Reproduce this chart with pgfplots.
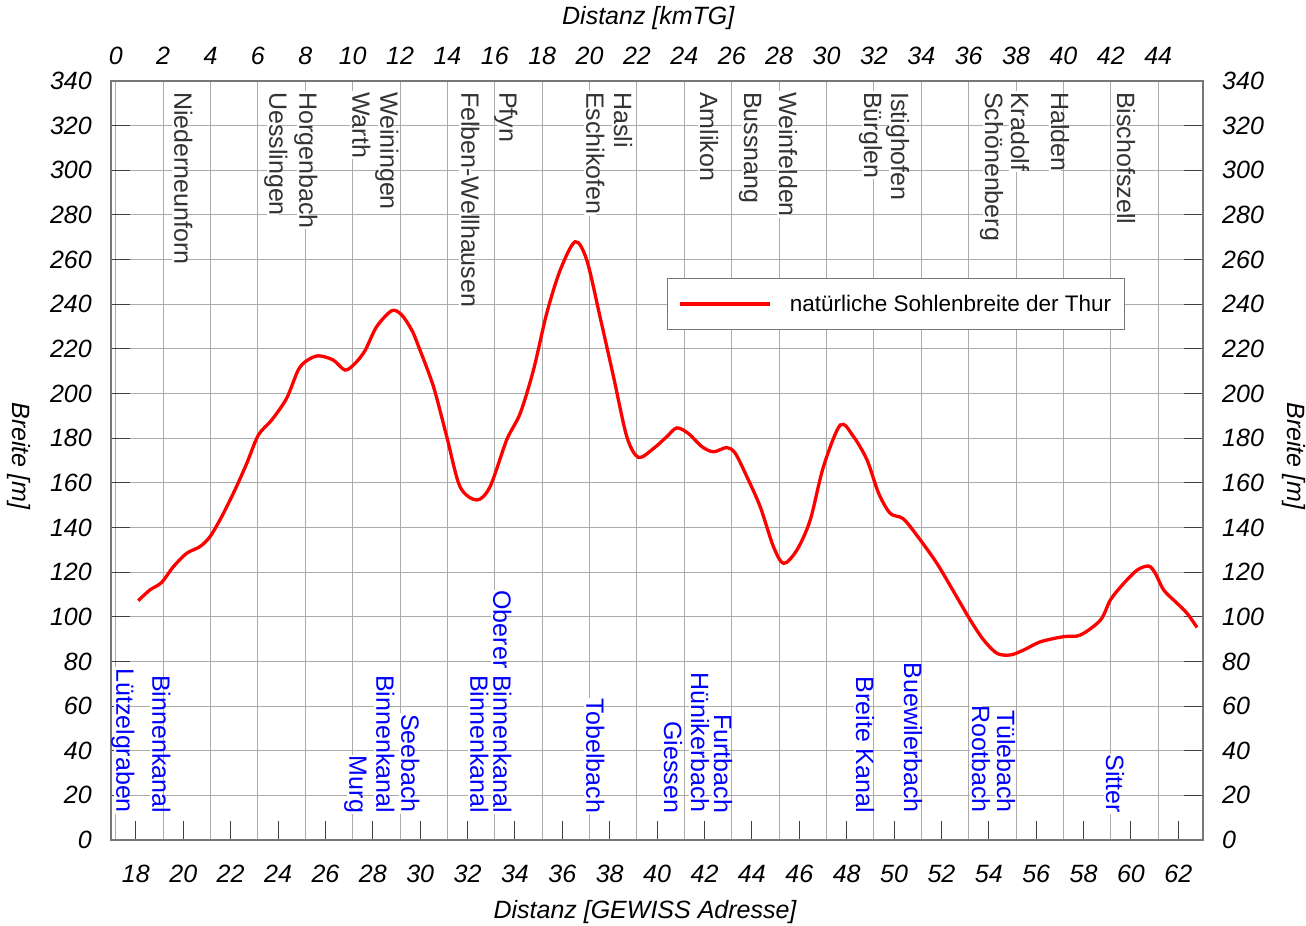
\documentclass[border=0pt]{standalone}
\usepackage{pgfplots}
\pgfplotsset{compat=1.18}
\usepackage{fontspec}
\setmainfont{Liberation Sans}
\definecolor{gridgray}{HTML}{ABABAB}
\definecolor{tickgray}{HTML}{404040}
\definecolor{framegray}{HTML}{777777}
\definecolor{labgray}{HTML}{333333}
\newcommand{\lf}{\fontsize{25}{30}\selectfont}

\pgfplotstableread{
x y
18.10 107.2
18.59 112.0
19.08 115.3
19.58 122.4
20.14 128.4
20.70 131.4
21.13 135.9
21.62 144.8
22.18 156.8
22.68 168.7
23.17 181.4
23.73 188.1
24.36 197.8
24.85 210.5
25.21 214.7
25.70 216.9
26.33 215.0
26.83 210.5
27.25 213.5
27.67 219.2
28.16 229.9
28.80 237.1
29.22 235.2
29.64 228.5
29.91 221.7
30.56 203.1
31.12 180.7
31.68 158.3
32.39 152.3
32.95 158.3
33.65 179.2
34.22 191.1
34.78 210.5
35.34 235.9
35.91 255.3
36.54 268.0
37.03 259.8
37.59 234.4
38.16 207.5
38.72 180.7
39.21 171.4
39.85 175.4
40.41 180.7
40.83 184.6
41.32 182.1
41.89 176.2
42.38 173.9
42.94 175.8
43.30 173.2
43.79 162.7
44.35 149.3
44.91 131.4
45.34 123.9
45.90 129.9
46.46 143.3
47.02 167.2
47.73 185.9
48.29 180.7
48.86 170.2
49.35 155.3
49.84 146.3
50.40 143.8
51.08 134.8
51.81 123.9
52.52 111.2
53.22 98.5
53.78 89.6
54.35 83.6
54.91 82.9
55.47 85.1
56.18 88.8
57.16 91.1
57.86 91.8
58.71 98.5
59.13 107.5
59.63 114.2
60.26 120.9
60.75 122.7
61.03 119.4
61.38 112.0
61.95 106.0
62.37 101.5
62.79 95.2
}\thurdata

\tikzset{
  toplab/.style={rotate=-90, anchor=west, fill=white, text=labgray, font=\lf,
    inner xsep=1pt, inner ysep=0.5pt, text height=0.9em, text depth=0.2em},
  botlab/.style={rotate=-90, anchor=east, fill=white, text=blue, font=\lf,
    inner xsep=1pt, inner ysep=0.5pt, text height=0.9em, text depth=0.2em},
}

\begin{document}
\begin{tikzpicture}
\pgfplotsset{
  common/.style={
    scale only axis, width=1092pt, height=759pt,
    ymin=0, ymax=340, ytick={0,20,...,340},
    axis line style={framegray, line width=1.3pt},
    tick align=inside,
    major tick length=19pt,
    clip=false,
    /pgf/number format/assume math mode=true,
    tick label style={font=\lf\itshape, inner sep=0pt},
  },
}
% background axis: top km scale, right y labels, grid
\begin{axis}[common,
  xmin=-0.2, xmax=45.89, xtick={0,2,...,44},
  xtick pos=upper, xticklabel pos=upper,
  ytick pos=right, yticklabel pos=right,
  xmajorgrids, ymajorgrids,
  grid style={gridgray, line width=1pt},
  xtick style={gridgray, line width=1pt},
  ytick style={tickgray, line width=1pt},
  xticklabel style={anchor=base, yshift=16pt},
  yticklabel style={anchor=west, xshift=19pt},
]
\addplot[draw=none, forget plot] coordinates {(0,0)};
\end{axis}
% main axis
\begin{axis}[common,
  xmin=16.95, xmax=63.04, xtick={18,20,...,62},
  xtick pos=lower, xticklabel pos=lower,
  ytick pos=left, yticklabel pos=left,
  tick style={tickgray, line width=1pt},
  xticklabel style={anchor=base, yshift=-42pt},
  yticklabel style={anchor=east, xshift=-19pt},
  legend style={at={(rel axis cs:0.5092,0.7405)}, anchor=north west,
    draw=framegray, line width=1pt, fill=white,
    font=\fontsize{22.5}{27}\selectfont, inner xsep=11pt, inner ysep=14.5pt,
    /tikz/every odd column/.append style={column sep=16pt}},
  legend cell align=left,
  legend image code/.code={\draw[#1] (0pt,0pt) -- (90pt,0pt);},
]
\addplot[red, line width=3.3pt, smooth, tension=0.5] table[x=x, y=y] {\thurdata};
\addlegendentry{natürliche Sohlenbreite der Thur}

% place names (top)
\node[toplab] at (axis cs:19.773,335.5) {Niederneunforn};
\node[toplab] at (axis cs:23.781,335.5) {Uesslingen};
\node[toplab] at (axis cs:25.047,335.5) {Horgenbach};
\node[toplab] at (axis cs:27.283,335.5) {Warth};
\node[toplab] at (axis cs:28.465,335.5) {Weiningen};
\node[toplab] at (axis cs:31.882,335.5) {Felben-Wellhausen};
\node[toplab] at (axis cs:33.486,335.5) {Pfyn};
\node[toplab] at (axis cs:37.157,335.5) {Eschikofen};
\node[toplab] at (axis cs:38.338,335.5) {Hasli};
\node[toplab] at (axis cs:41.967,335.5) {Amlikon};
\node[toplab] at (axis cs:43.823,335.5) {Bussnang};
\node[toplab] at (axis cs:45.300,335.5) {Weinfelden};
\node[toplab] at (axis cs:48.887,335.5) {Bürglen};
\node[toplab] at (axis cs:50.026,335.5) {Istighofen};
\node[toplab] at (axis cs:53.992,335.5) {Schönenberg};
\node[toplab] at (axis cs:55.089,335.5) {Kradolf};
\node[toplab] at (axis cs:56.777,335.5) {Halden};
\node[toplab] at (axis cs:59.562,335.5) {Bischofszell};

% tributaries (bottom)
\node[botlab] at (axis cs:17.325,11.6) {Lützelgraben};
\node[botlab] at (axis cs:18.844,11.6) {Binnenkanal};
\node[botlab] at (axis cs:27.157,11.6) {Murg};
\node[botlab] at (axis cs:28.296,11.6) {Binnenkanal};
\node[botlab] at (axis cs:29.351,11.6) {Seebach};
\node[botlab] at (axis cs:32.262,11.6) {Binnenkanal};
\node[botlab] at (axis cs:33.233,11.6) {Oberer Binnenkanal};
\node[botlab] at (axis cs:37.157,11.6) {Tobelbach};
\node[botlab] at (axis cs:40.448,11.6) {Giessen};
\node[botlab] at (axis cs:41.587,11.6) {Hünikerbach};
\node[botlab] at (axis cs:42.557,11.6) {Furtbach};
\node[botlab] at (axis cs:48.549,11.6) {Breite Kanal};
\node[botlab] at (axis cs:50.574,11.6) {Buewilerbach};
\node[botlab] at (axis cs:53.444,11.6) {Rootbach};
\node[botlab] at (axis cs:54.498,11.6) {Tülebach};
\node[botlab] at (axis cs:59.098,11.6) {Sitter};

% axis titles
\node[font=\lf\itshape] at ([yshift=-72pt]rel axis cs:0.489,0) {Distanz [GEWISS Adresse]};
\node[font=\lf\itshape] at ([yshift=63pt]rel axis cs:0.492,1) {Distanz [kmTG]};
\node[font=\lf\itshape, rotate=-90, inner sep=0pt] at ([xshift=-92pt]rel axis cs:0,0.506) {Breite [m]};
\node[font=\lf\itshape, rotate=-90, inner sep=0pt] at ([xshift=91pt]rel axis cs:1,0.506) {Breite [m]};
\end{axis}
\pgfresetboundingbox
\path[use as bounding box] ([shift={(-111pt,-85pt)}]current axis.south west) rectangle ([shift={(103pt,81pt)}]current axis.north east);
\end{tikzpicture}
\end{document}
